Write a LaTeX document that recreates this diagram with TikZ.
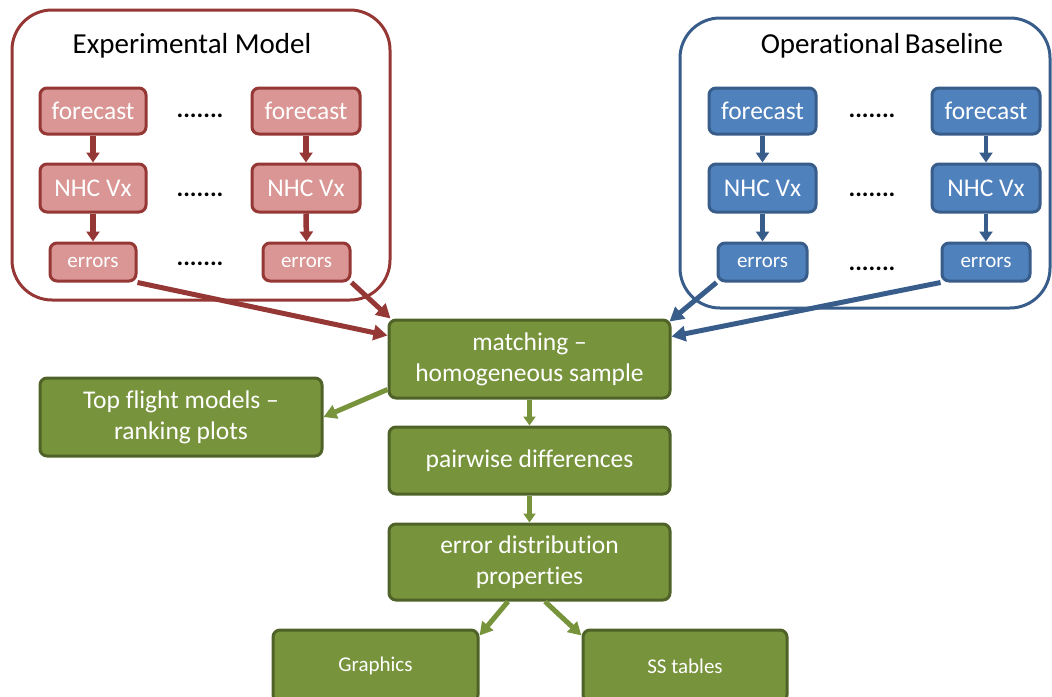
\documentclass[tikz,border=0pt]{standalone}
\usepackage{fontspec}
\setmainfont{Carlito}[Ligatures=NoCommon]
\usetikzlibrary{arrows.meta,calc}
\definecolor{redfill}{RGB}{217,150,148}
\definecolor{redline}{RGB}{149,55,53}
\definecolor{bluefill}{RGB}{79,129,189}
\definecolor{blueline}{RGB}{56,93,138}
\definecolor{greenfill}{RGB}{119,147,60}
\definecolor{greenline}{RGB}{79,98,40}
\tikzset{
  box/.style={rounded corners=7pt, line width=3pt, text=white, align=center, inner sep=0pt},
  redbox/.style={box, fill=redfill, draw=redline},
  bluebox/.style={box, fill=bluefill, draw=blueline},
  greenbox/.style={box, fill=greenfill, draw=greenline},
  big/.style={font=\fontsize{25.5}{31}\selectfont},
  small/.style={font=\fontsize{21}{25}\selectfont},
  tiny/.style={font=\fontsize{21}{25}\selectfont},
  dots/.style={font=\fontsize{25}{28}\selectfont\bfseries, inner sep=0pt},
  title/.style={font=\fontsize{29}{33}\selectfont, anchor=base},
  frame/.style={rounded corners=40pt, line width=3pt, fill=white},
  redarrow/.style={-{Triangle[length=14pt,width=15pt]}, line width=5pt, draw=redline},
  bluearrow/.style={-{Triangle[length=14pt,width=15pt]}, line width=5pt, draw=blueline},
  greenarrow/.style={-{Triangle[length=13pt,width=14pt]}, line width=5pt, draw=greenfill},
  smallarrow/.style={-{Triangle[length=10pt,width=13pt]}},
}
\begin{document}
\begin{tikzpicture}[x=1pt,y=-1pt]
\useasboundingbox (0,0) rectangle (1052,696);
% frames
\draw[frame, draw=redline] (12,10) rectangle (390,300);
\draw[frame, draw=blueline] (680,18) rectangle (1050,308);
\node[title] (tred) at (192,53) {Experimental Model};
\node[title] (tblue) at (882,53) {Operational\hspace{-2pt} Baseline};
% red column
\node[redbox, big, minimum width=106pt, minimum height=46pt] (rf1) at (93,111) {forecast};
\node[redbox, big, minimum width=108pt, minimum height=46pt] (rf2) at (306,111) {forecast};
\node[redbox, big, minimum width=106pt, minimum height=48pt] (rn1) at (93,188) {NHC Vx};
\node[redbox, big, minimum width=108pt, minimum height=48pt] (rn2) at (306,188) {NHC Vx};
\node[redbox, small, minimum width=86pt, minimum height=38pt] (re1) at (93,262) {errors};
\node[redbox, small, minimum width=87pt, minimum height=38pt] (re2) at (306.5,262) {errors};
\node[dots] (rd1) at (200,116) {.......};
\node[dots] (rd2) at (200,195) {.......};
\node[dots] (rd3) at (200,264) {.......};
% blue column
\node[bluebox, big, minimum width=107pt, minimum height=46pt] (bf1) at (762.5,111) {forecast};
\node[bluebox, big, minimum width=108pt, minimum height=46pt] (bf2) at (986,111) {forecast};
\node[bluebox, big, minimum width=107pt, minimum height=48pt] (bn1) at (762.5,188) {NHC Vx};
\node[bluebox, big, minimum width=108pt, minimum height=48pt] (bn2) at (986,188) {NHC Vx};
\node[bluebox, small, minimum width=89pt, minimum height=38pt] (be1) at (762.5,262) {errors};
\node[bluebox, small, minimum width=88pt, minimum height=38pt] (be2) at (986,262) {errors};
\node[dots] (bd1) at (872,116) {.......};
\node[dots] (bd2) at (872,195) {.......};
\node[dots] (bd3) at (872,269) {.......};
% green
\node[greenbox, big, minimum width=281pt, minimum height=78pt] (match) at (529.5,359) {matching --\\homogeneous sample};
\node[greenbox, big, minimum width=282pt, minimum height=78pt] (top) at (181,417) {Top flight models --\\ranking plots};
\node[greenbox, big, minimum width=281pt, minimum height=67pt] (pair) at (529.5,460.5) {pairwise differences};
\node[greenbox, big, minimum width=281pt, minimum height=76pt] (dist) at (529.5,562) {error distribution\\properties};
\node[greenbox, tiny, minimum width=205pt, minimum height=72pt] (graphics) at (375.5,666) {Graphics};
\node[greenbox, tiny, minimum width=204pt, minimum height=72pt] (ss) at (685,666) {SS tables};
% vertical small arrows
\foreach \a/\b in {rf1/rn1, rf2/rn2, rn1/re1, rn2/re2}
  \draw[smallarrow, draw=redline, line width=5.5pt] (\a.south) -- (\b.north);
\foreach \a/\b in {bf1/bn1, bf2/bn2, bn1/be1, bn2/be2}
  \draw[smallarrow, draw=blueline, line width=4.5pt] (\a.south) -- (\b.north);
% errors to matching
\draw[redarrow] (re1.south east) -- ([yshift=-17pt]match.north west);
\draw[redarrow] (re2.south east) -- ([xshift=3pt]match.north west);
\draw[bluearrow] (be1.south west) -- ([xshift=-2pt,yshift=-3pt]match.north east);
\draw[bluearrow] (be2.south west) -- ([yshift=-18pt]match.north east);
% green flow
\draw[greenarrow] ([yshift=10pt]match.south west) -- (top.east);
\draw[greenarrow, line width=4.5pt, -{Triangle[length=9pt,width=12pt]}] (match.south) -- (pair.north);
\draw[greenarrow, line width=4.5pt, -{Triangle[length=9pt,width=12pt]}] (pair.south) -- (dist.north);
\draw[greenarrow] ([xshift=-21.5pt]dist.south) -- ([yshift=-7pt]graphics.north east);
\draw[greenarrow] ([xshift=15.5pt]dist.south) -- ([yshift=-7pt]ss.north west);
\end{tikzpicture}
\end{document}
